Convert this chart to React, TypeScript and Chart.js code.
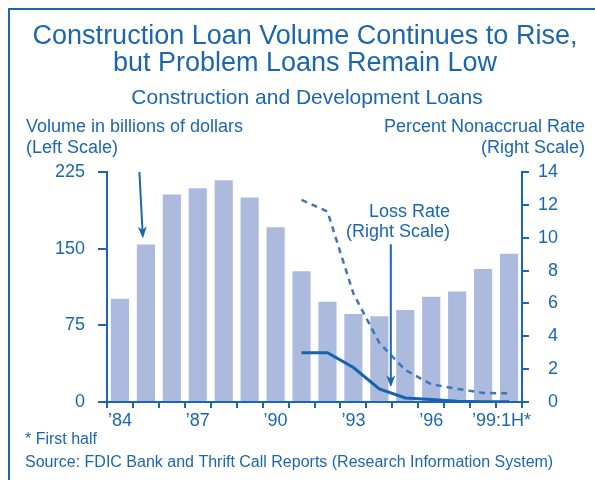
import React, { useEffect, useRef } from "react";
import { Chart, registerables } from "chart.js";

Chart.register(...registerables);

const categories = ["’84", "’85", "’86", "’87", "’88", "’89", "’90", "’91", "’92", "’93", "’94", "’95", "’96", "’97", "’98", "’99:1H*"];
const volume = [101, 154, 203, 209, 217, 200, 171, 128, 98, 86, 84, 90, 103, 108, 130, 145];
const nonaccrualRate = [null, null, null, null, null, null, null, 12.3, 11.6, 6.6, 3.6, 1.95, 1.08, 0.8, 0.55, 0.53];
const lossRate = [null, null, null, null, null, null, null, 3.0, 3.0, 2.1, 0.8, 0.25, 0.15, 0.05, 0.02, 0.02];
const leftTicks = [0, 75, 150, 225];
const rightTicks = [0, 2, 4, 6, 8, 10, 12, 14];

const BLUE = "#1a66b0";
const FONT = "'Liberation Sans', Arial, sans-serif";

const decorPlugin = {
  id: "decor",
  afterDraw(chart: any) {
    const ctx = chart.ctx;
    const x = chart.scales.x;
    const y = chart.scales.y;
    const y1 = chart.scales.y1;
    ctx.save();
    // frame (top and left)
    ctx.strokeStyle = BLUE;
    ctx.lineWidth = 2;
    ctx.beginPath();
    ctx.moveTo(9, 480);
    ctx.lineTo(9, 9);
    ctx.lineTo(595, 9);
    ctx.stroke();

    ctx.fillStyle = BLUE;
    ctx.textBaseline = "middle";
    ctx.textAlign = "center";
    ctx.font = `27px ${FONT}`;
    ctx.fillText("Construction Loan Volume Continues to Rise,", 305, 37);
    ctx.fillText("but Problem Loans Remain Low", 305, 64);
    ctx.font = `21px ${FONT}`;
    ctx.fillText("Construction and Development Loans", 307, 98);

    ctx.font = `18px ${FONT}`;
    ctx.textAlign = "left";
    ctx.fillText("Volume in billions of dollars", 26, 127);
    ctx.fillText("(Left Scale)", 26, 148);
    ctx.textAlign = "right";
    ctx.fillText("Percent Nonaccrual Rate", 585, 127);
    ctx.fillText("(Right Scale)", 585, 148);

    ctx.fillText("Loss Rate", 450, 212);
    ctx.fillText("(Right Scale)", 450, 232);

    ctx.font = `16px ${FONT}`;
    ctx.textAlign = "left";
    ctx.fillText("* First half", 25, 440);
    ctx.fillText("Source: FDIC Bank and Thrift Call Reports (Research Information System)", 25, 463);

    // arrows
    const arrow = (x0: number, yA: number, x1: number, yB: number) => {
      const ang = Math.atan2(yB - yA, x1 - x0);
      const len = 12;
      const hw = 4.5;
      ctx.strokeStyle = BLUE;
      ctx.lineWidth = 2;
      ctx.beginPath();
      ctx.moveTo(x0, yA);
      ctx.lineTo(x1 - Math.cos(ang) * len * 0.6, yB - Math.sin(ang) * len * 0.6);
      ctx.stroke();
      const bx = x1 - Math.cos(ang) * len;
      const by = yB - Math.sin(ang) * len;
      const px = -Math.sin(ang) * hw;
      const py = Math.cos(ang) * hw;
      ctx.beginPath();
      ctx.moveTo(x1, yB);
      ctx.lineTo(bx + px, by + py);
      ctx.lineTo(x1 - Math.cos(ang) * len * 0.7, yB - Math.sin(ang) * len * 0.7);
      ctx.lineTo(bx - px, by - py);
      ctx.closePath();
      ctx.fill();
    };
    const xa = x.getPixelForValue(1) - 6.5;
    arrow(xa, y.getPixelForValue(225), xa + 3.5, y.getPixelForValue(160));
    const xb = (x.getPixelForValue(10) + x.getPixelForValue(11)) / 2 - 1.5;
    arrow(xb, y1.getPixelForValue(9.6), xb, y1.getPixelForValue(0.9));
    ctx.restore();
  },
};

export default function App() {
  const ref = useRef<HTMLCanvasElement>(null);
  useEffect(() => {
    const canvas = ref.current!;
    const chart = new Chart(canvas, {
      type: "bar",
      data: {
        labels: categories,
        datasets: [
          {
            type: "line",
            data: lossRate,
            yAxisID: "y1",
            borderColor: "#1563b0",
            borderWidth: 3,
            pointRadius: 0,
            tension: 0,
            order: 1,
          } as any,
          {
            type: "line",
            data: nonaccrualRate,
            yAxisID: "y1",
            borderColor: "#3f76ba",
            borderWidth: 2.5,
            borderDash: [6, 5],
            pointRadius: 0,
            tension: 0,
            order: 1,
          } as any,
          {
            type: "bar",
            data: volume,
            yAxisID: "y",
            backgroundColor: "#abbadd",
            barPercentage: 0.7,
            categoryPercentage: 1,
            order: 2,
          },
        ],
      },
      options: {
        responsive: false,
        animation: false,
        devicePixelRatio: 1,
        layout: { padding: { top: 172, right: 37, bottom: 0, left: 0 } },
        plugins: { legend: { display: false }, tooltip: { enabled: false }, title: { display: false } },
        scales: {
          x: {
            offset: true,
            grid: { display: true, drawOnChartArea: false, offset: true, tickLength: 6, color: BLUE, lineWidth: 2 },
            border: { display: true, color: BLUE, width: 2 },
            ticks: {
              autoSkip: false,
              maxRotation: 0,
              padding: 2,
              color: BLUE,
              font: { family: FONT, size: 18 },
              callback: (_v: any, i: number) =>
                i % 3 === 0 ? (i === categories.length - 1 ? categories[i] + "   " : categories[i]) : "",
            },
            afterFit: (s: any) => { s.height = 78; },
          },
          y: {
            position: "left",
            min: 0,
            max: 225,
            afterBuildTicks: (s: any) => { s.ticks = leftTicks.map((v) => ({ value: v })); },
            grid: { display: true, drawOnChartArea: false, tickLength: 9, color: BLUE, lineWidth: 2 },
            border: { display: true, color: BLUE, width: 2 },
            ticks: { padding: 13, color: BLUE, font: { family: FONT, size: 18 } },
            afterFit: (s: any) => { s.width = 107; },
          },
          y1: {
            position: "right",
            min: 0,
            max: 14,
            afterBuildTicks: (s: any) => { s.ticks = rightTicks.map((v) => ({ value: v })); },
            grid: { display: true, drawOnChartArea: false, tickLength: 7, color: BLUE, lineWidth: 2 },
            border: { display: true, color: BLUE, width: 2 },
            ticks: { crossAlign: "far", padding: 8, color: BLUE, font: { family: FONT, size: 18 } },
            afterFit: (s: any) => { s.width = 36; },
          },
        },
      },
      plugins: [decorPlugin],
    });
    return () => chart.destroy();
  }, []);
  return (
    <canvas
      ref={ref}
      width={595}
      height={480}
      style={{ position: "absolute", left: 0, top: 0, width: 595, height: 480, background: "#fff" }}
    />
  );
}
